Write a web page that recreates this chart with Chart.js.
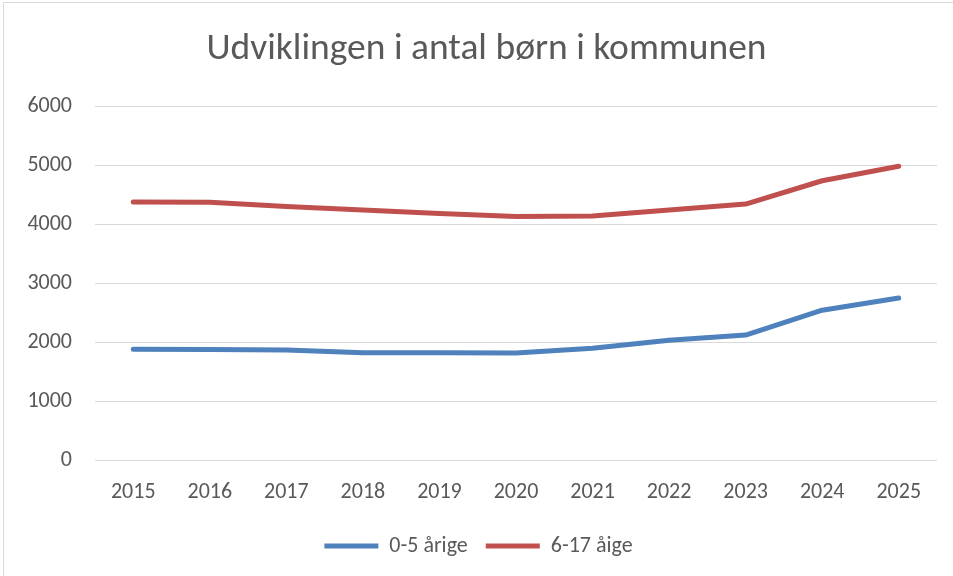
<!DOCTYPE html>
<html>
<head>
<meta charset="utf-8">
<script src="https://cdn.jsdelivr.net/npm/chart.js@4"></script>
<style>
  html, body { margin: 0; padding: 0; background: #fff; }
  #wrap { position: relative; width: 953px; height: 576px; overflow: hidden; }
  #frame { position: absolute; left: 3px; top: 2px; width: 1000px; height: 1000px; border: 1px solid #d9d9d9; box-sizing: border-box; }
  canvas { position: absolute; left: 0; top: 0; }
</style>
</head>
<body>
<div id="wrap">
  <div id="frame"></div>
  <canvas id="kidsChart" width="953" height="576"></canvas>
</div>
<script>
const years = ["2015", "2016", "2017", "2018", "2019", "2020", "2021", "2022", "2023", "2024", "2025"];
const age0to5 = [1885, 1878, 1870, 1825, 1825, 1822, 1900, 2035, 2125, 2545, 2750];
const age6to17 = [4375, 4370, 4300, 4240, 4180, 4130, 4140, 4240, 4340, 4735, 4980];
const yTicks = [0, 1000, 2000, 3000, 4000, 5000, 6000];

const fontFamily = "Carlito, Calibri, 'Open Sans', sans-serif";
const grey = '#595959';

// nudge the title a bit right, Excel centers it on the frame not the canvas
const shiftTitle = {
    id: 'shiftTitle',
    afterLayout(chart) {
        if (chart.titleBlock) chart.titleBlock.left += 16;
    }
};

document.addEventListener("DOMContentLoaded", function () {
    const ctx = document.getElementById("kidsChart");

    new Chart(ctx, {
        type: "line",
        data: {
            labels: years,
            datasets: [{
                label: "0-5 årige",
                data: age0to5,
                borderColor: '#4f81bd',
                backgroundColor: '#4f81bd',
                borderWidth: 5,
                borderCapStyle: 'round',
                borderJoinStyle: 'round',
                pointRadius: 0,
                tension: 0
            }, {
                label: "6-17 åige",
                data: age6to17,
                borderColor: '#c0504d',
                backgroundColor: '#c0504d',
                borderWidth: 5,
                borderCapStyle: 'round',
                borderJoinStyle: 'round',
                pointRadius: 0,
                tension: 0
            }]
        },
        plugins: [shiftTitle],
        options: {
            responsive: false,
            animation: false,
            layout: {
                padding: { left: 20, right: 16, top: 0, bottom: 9 }
            },
            plugins: {
                title: {
                    display: true,
                    text: "Udviklingen i antal børn i kommunen",
                    color: grey,
                    font: { family: fontFamily, size: 37.5, weight: 'normal' },
                    padding: { top: 27, bottom: 34 }
                },
                legend: {
                    position: 'bottom',
                    labels: {
                        color: grey,
                        font: { family: fontFamily, size: 22 },
                        boxWidth: 54,
                        boxHeight: 5,
                        padding: 18,
                        generateLabels: function (chart) {
                            const items = Chart.defaults.plugins.legend.labels.generateLabels(chart);
                            items.forEach(it => { it.lineWidth = 0; });
                            return items;
                        }
                    }
                },
                tooltip: { enabled: false }
            },
            scales: {
                x: {
                    offset: true,
                    grid: { display: false },
                    border: { display: false },
                    ticks: {
                        color: grey,
                        font: { family: fontFamily, size: 22 },
                        padding: 11
                    }
                },
                y: {
                    min: 0,
                    max: 6000,
                    afterBuildTicks: function (scale) {
                        scale.ticks = yTicks.map(v => ({ value: v }));
                    },
                    afterFit: function (scale) {
                        scale.width = 75;
                    },
                    grid: { color: '#d9d9d9', lineWidth: 1, drawTicks: false },
                    border: { display: false },
                    ticks: {
                        color: grey,
                        font: { family: fontFamily, size: 22 },
                        padding: 23,
                        callback: function (value) { return String(value); }
                    }
                }
            }
        }
    });
});
</script>
</body>
</html>
